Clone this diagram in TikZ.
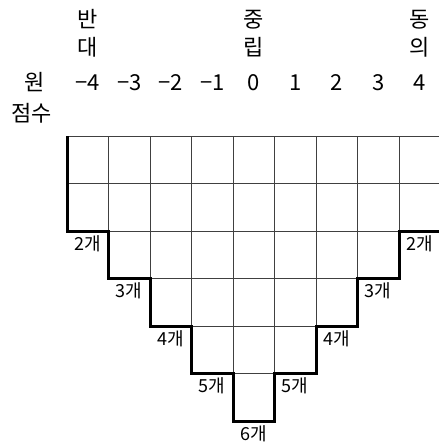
\documentclass[tikz,border=0pt]{standalone}
\usepackage{fontspec}
\setmainfont{Noto Sans CJK KR}
\usetikzlibrary{positioning}

\begin{document}
\begin{tikzpicture}[
  x=1pt, y=-1pt,
  cell/.style={draw=black!75, line width=0.8pt},
  stair/.style={draw=black, line width=3pt, line join=miter},
  num/.style={font=\fontsize{22}{28}\selectfont, anchor=base, inner sep=0pt},
  head/.style={font=\fontsize{22}{28}\selectfont, align=center, inner sep=0pt},
  cnt/.style={font=\fontsize{18}{18}\selectfont, anchor=base, inner sep=0pt}
]
  \useasboundingbox (0,0) rectangle (439,445);

  % columns: score / number of cells
  \foreach \t/\c [count=\i from 0] in {−4/2,−3/3,−2/4,−1/5,0/6,1/5,2/4,3/3,4/2} {
    \pgfmathsetmacro\xl{67+41.5*\i}
    \foreach \r in {1,...,\c}
      \draw[cell] (\xl,{136+47.5*(\r-1)}) rectangle ++(41.5,47.5);
    \node[num] (n\i) at (\xl+20.75,90) {\t};
    \node[cnt] (c\i) at (\xl+20.75,{136+47.5*\c+19}) {\c{}개};
  }

  % outline of the stairs
  \draw[stair] (67,136) -- (67,231) -- (108.5,231) -- (108.5,278.5)
    -- (150,278.5) -- (150,326) -- (191.5,326) -- (191.5,373.5)
    -- (233,373.5) -- (233,421) -- (274.5,421) -- (274.5,373.5)
    -- (316,373.5) -- (316,326) -- (357.5,326) -- (357.5,278.5)
    -- (399,278.5) -- (399,231) -- (440.5,231) -- (440.5,136);

  % headings
  \node[head, above=17pt of n0] (against) {반\\대};
  \node[head, above=17pt of n4] (neutral) {중\\립};
  \node[head, above=17pt of n8] (agree) {동\\의};
  \node[num] (raw) at (35,90) {원};
  \node[num] (score) at (32,121) {점수};
\end{tikzpicture}
\end{document}
